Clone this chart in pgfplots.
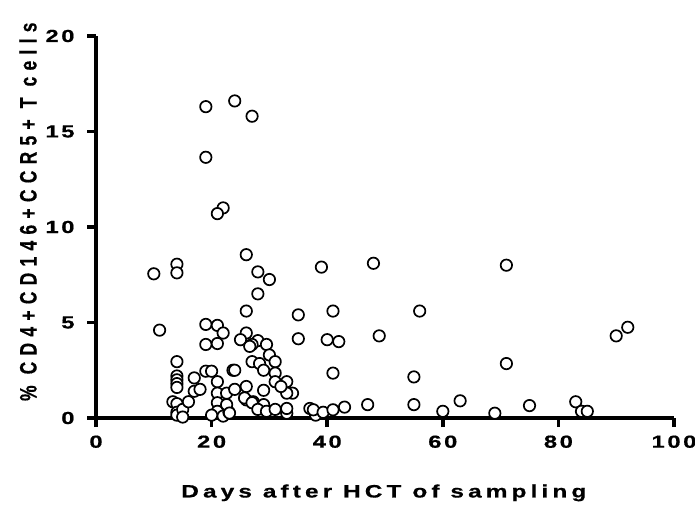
\documentclass[border=0pt]{standalone}
\usepackage{fontspec}
\usepackage{graphicx}
\usepackage{pgfplots}
\pgfplotsset{compat=1.18}
\setmainfont{Liberation Sans}
\newfontfamily\hfont{Liberation Sans}[FakeStretch=1.36,LetterSpace=15,FakeBold=0.6]
\newfontfamily\xlabfont{Liberation Sans}[FakeStretch=1.36,LetterSpace=23,FakeBold=0.6]
\newfontfamily\ylabfont{Liberation Sans}[LetterSpace=36,FakeBold=0.6]
\begin{document}
\begin{tikzpicture}
\begin{axis}[
  scale only axis, width=578bp, height=382bp,
  xmin=0, xmax=100, ymin=0, ymax=20,
  axis x line*=bottom, axis y line*=left,
  axis line style={line width=3.5bp, black},
  xtick={0,20,...,100}, ytick={0,5,...,20},
  tick align=outside, major tick length=9bp,
  tick style={line width=3.5bp, black},
  /pgf/number format/assume math mode=true,
  ticklabel style={font=\hfont\bfseries\fontsize{17.5}{19}\selectfont},
  xticklabel style={yshift=-5bp},
  yticklabel style={xshift=-9bp},
  xlabel={\xlabfont\bfseries\fontsize{18}{20}\selectfont Days after HCT of sampling},
  ylabel={\scalebox{1}[1.36]{\ylabfont\bfseries\fontsize{17.5}{19}\selectfont \% CD4+CD146+CCR5+ T cells}},
  xlabel style={at={(axis description cs:0.498,-0.196)}, anchor=center},
  ylabel style={at={(axis description cs:-0.1176,0.54)}, anchor=center, rotate=0},
  clip=false,
]
\addplot[only marks, mark=*, mark size=5.7bp, mark options={draw=black, fill=white, line width=1.7bp}] coordinates {
(10,7.55) (14,8.05) (14,7.6) (11,4.6) (14,2.95) (14,2.2) (14,2.0) (14,1.8) (14,1.6)
(13.3,0.85) (14,0.75) (14,0.3) (14,0.15) (15,0.45) (15,0.05) (16,0.85) (17,1.4) (17,2.1) (18,1.5)
(19,16.3) (24,16.6) (27,15.8) (19,13.65) (22,11.0) (21,10.7)
(19,4.9) (21,4.85) (22,4.45) (19,3.85) (21,3.9) (19,2.45) (20,2.45) (21,1.9) (21,1.3) (21,0.8)
(21,0.35) (20,0.15) (22,0.1) (23,0.3) (22.6,1.3) (22.6,0.7) (23.7,2.5) (24,1.5)
(26,8.55) (28,7.65) (30,7.25) (28,6.5) (26,5.6) (26,4.45) (25,4.1) (28,4.05) (29.5,3.85) (27,3.85)
(26.6,3.75) (30,3.3) (27,2.95) (28.3,2.85) (31,2.95) (24,2.5) (29,2.5) (31,2.35) (31,1.9) (33,1.9)
(34,1.3) (33,1.3) (32,1.65) (29,1.45) (26,1.65) (26,0.95) (25.7,1.05) (27.2,0.85) (27,0.8) (29,0.6)
(29,0.7) (28,0.45) (29.5,0.35) (31,0.45) (33,0.25) (33,0.5) (23.1,0.26)
(39,7.9) (35,5.4) (41,5.6) (48,8.1) (71,8.0) (56,5.6) (35,4.15) (40,4.1) (42,4.0) (49,4.3)
(90,4.3) (92,4.75) (41,2.35) (55,2.15) (71,2.85) (37,0.5) (38,0.15) (37.6,0.43) (39.3,0.3) (41,0.43)
(43,0.57) (47,0.7) (55,0.7) (60,0.35) (63,0.9) (69,0.25) (75,0.65) (83,0.85) (84,0.35) (85,0.35)
};
\end{axis}
\pgfresetboundingbox
\useasboundingbox (-96bp,-95bp) rectangle (599bp,418bp);
\end{tikzpicture}
\end{document}
